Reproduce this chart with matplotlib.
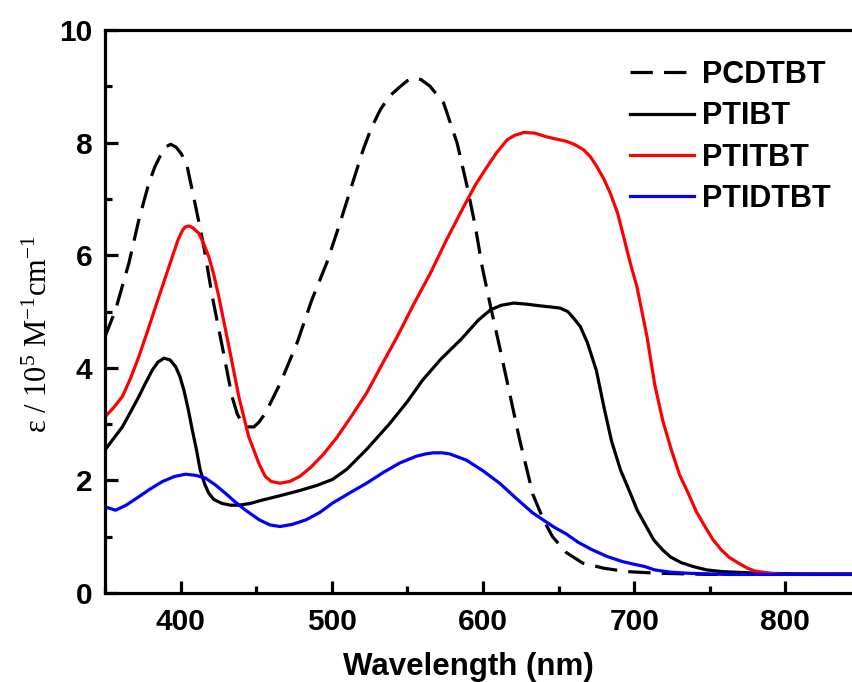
import matplotlib
matplotlib.use("Agg")
import matplotlib.pyplot as plt
from matplotlib.ticker import MultipleLocator

plt.rcParams["mathtext.fontset"] = "custom"
plt.rcParams["mathtext.rm"] = "Liberation Serif"
plt.rcParams["mathtext.it"] = "Liberation Serif:italic"

# absorption spectra, wavelength (nm) vs epsilon (1e5 M^-1 cm^-1)
pcdtbt_wl = [350, 357, 365.8, 372.4, 379, 383, 386.8, 390, 393.4, 397, 400.5, 404.4, 410, 415.4,
             421, 427.6, 434, 437.5, 440.8, 444.5, 448.5, 452, 456, 466, 477, 486.7, 496.6,
             505.4, 513, 520.7, 526, 532, 538, 545, 550, 554, 559, 565, 574, 582.9, 589.5, 595,
             599.4, 605, 611, 618, 624, 633, 640, 646, 655, 666, 680, 695, 717, 750, 800, 850]
pcdtbt_eps = [4.55, 5.03, 5.86, 6.63, 7.28, 7.57, 7.78, 7.92, 7.97, 7.92, 7.8, 7.57, 6.86, 6.15,
              5.26, 4.37, 3.49, 3.18, 3.01, 2.95, 2.95, 3.04, 3.19, 3.73, 4.44, 5.2, 5.86, 6.57,
              7.22, 7.87, 8.25, 8.58, 8.82, 8.99, 9.1, 9.15, 9.12, 9.0, 8.7, 7.99, 7.22, 6.5,
              5.8, 5.09, 4.37, 3.5, 2.75, 1.75, 1.3, 1.0, 0.72, 0.53, 0.44, 0.38, 0.35, 0.33,
              0.33, 0.33]

ptibt_wl = [350, 355, 361.5, 367, 372.4, 377, 381.3, 385, 389, 393, 396.7, 399.5, 402.2, 405,
            407.7, 410.5, 413, 416, 418.7, 422, 427.5, 433, 438.5, 446, 454, 466, 478.8, 490,
            500.7, 510, 523, 538, 550, 560, 572, 586, 597, 605, 612, 620.3, 629, 638, 645, 651,
            656, 660, 664.4, 669, 675, 680, 685, 691, 697, 702, 708, 713, 719, 724, 731, 739,
            748, 758, 783, 810, 850]
ptibt_eps = [2.54, 2.72, 2.95, 3.22, 3.49, 3.74, 3.96, 4.1, 4.17, 4.14, 4.02, 3.85, 3.6, 3.27,
             2.9, 2.54, 2.18, 1.93, 1.77, 1.66, 1.59, 1.56, 1.56, 1.59, 1.65, 1.73, 1.82, 1.91,
             2.02, 2.2, 2.55, 3.0, 3.4, 3.78, 4.15, 4.52, 4.85, 5.03, 5.11, 5.15, 5.13, 5.1,
             5.08, 5.06, 5.0, 4.88, 4.73, 4.45, 3.95, 3.3, 2.7, 2.18, 1.8, 1.47, 1.18, 0.94,
             0.76, 0.64, 0.54, 0.47, 0.41, 0.38, 0.35, 0.34, 0.34]

ptitbt_wl = [350, 355, 361.5, 367, 372.4, 378, 383.5, 389, 394.5, 398, 401, 403, 405.5, 408,
             412, 415, 418.7, 422, 425.3, 432, 438.5, 445, 451.8, 456, 460, 465.7, 472, 478.8,
             486, 494, 503, 512, 523, 533, 543.2, 554, 565.2, 576, 587.2, 595, 602.7, 609, 616,
             621, 627, 634, 642.4, 649, 655.6, 661, 666.6, 671, 675.4, 680, 684.2, 689, 693,
             697, 701.8, 708.5, 713.6, 719, 724.6, 730, 735.6, 741, 746.8, 752, 757.8, 763,
             769, 775, 780, 790, 800, 850]
ptitbt_eps = [3.13, 3.27, 3.49, 3.82, 4.2, 4.64, 5.09, 5.53, 5.97, 6.25, 6.43, 6.5, 6.52, 6.49,
              6.39, 6.22, 5.97, 5.65, 5.26, 4.37, 3.49, 2.78, 2.3, 2.07, 1.98, 1.95, 1.98, 2.07,
              2.23, 2.45, 2.75, 3.1, 3.55, 4.05, 4.55, 5.12, 5.68, 6.28, 6.86, 7.25, 7.57, 7.82,
              8.05, 8.13, 8.18, 8.17, 8.1, 8.06, 8.02, 7.96, 7.87, 7.75, 7.57, 7.35, 7.1, 6.75,
              6.33, 5.9, 5.44, 4.55, 3.7, 3.05, 2.54, 2.1, 1.78, 1.45, 1.18, 0.95, 0.76, 0.63,
              0.53, 0.44, 0.39, 0.35, 0.33, 0.33]

ptidtbt_wl = [350, 357, 364, 372.4, 380, 388, 396, 403.3, 410, 416.5, 423, 429.7, 436, 443,
              452, 459, 465.7, 474, 483, 492, 500.7, 512, 523, 534, 545, 556, 562, 567, 573,
              578, 589, 600, 611, 622, 633, 647, 655, 663, 672, 682, 692, 700, 707, 713.6, 724,
              736, 760, 800, 850]
ptidtbt_eps = [1.53, 1.47, 1.56, 1.71, 1.85, 1.98, 2.07, 2.11, 2.09, 2.04, 1.92, 1.77, 1.62,
               1.47, 1.3, 1.21, 1.18, 1.22, 1.3, 1.43, 1.6, 1.78, 1.95, 2.14, 2.31, 2.43, 2.47,
               2.49, 2.49, 2.47, 2.36, 2.17, 1.95, 1.68, 1.42, 1.17, 1.05, 0.9, 0.77, 0.65, 0.56,
               0.51, 0.47, 0.41, 0.37, 0.35, 0.33, 0.33, 0.33]

fig = plt.figure(figsize=(8.52, 6.82), dpi=100)
ax = fig.add_axes([105 / 852, 1 - 593 / 682, 756 / 852, 563 / 682])

lw = 2.3
style = dict(lw=lw, solid_joinstyle="round", dash_joinstyle="round")
ax.plot(pcdtbt_wl, pcdtbt_eps, color="black", dashes=(7, 3.5), label="PCDTBT", **style)
ax.plot(ptibt_wl, ptibt_eps, color="black", label="PTIBT", **style)
ax.plot(ptitbt_wl, ptitbt_eps, color="#ff0000", label="PTITBT", **style)
ax.plot(ptidtbt_wl, ptidtbt_eps, color="#0000ff", label="PTIDTBT", **style)

ax.set_xlim(350, 850)
ax.set_ylim(0, 10)
ax.xaxis.set_major_locator(MultipleLocator(100))
ax.xaxis.set_minor_locator(MultipleLocator(50))
ax.yaxis.set_major_locator(MultipleLocator(2))
ax.yaxis.set_minor_locator(MultipleLocator(1))

for side in ["left", "bottom", "top", "right"]:
    ax.spines[side].set_linewidth(2.3)

ax.tick_params(which="both", direction="in", top=False, right=False, width=2.3)
ax.tick_params(which="major", length=9)
ax.tick_params(which="minor", length=5)
ax.tick_params(axis="y", pad=9)
ax.tick_params(axis="x", pad=11)

for lab in ax.get_xticklabels() + ax.get_yticklabels():
    lab.set_family("Liberation Sans")
    lab.set_fontweight("bold")
    lab.set_fontsize(21.5)

ax.set_xlabel("Wavelength (nm)", family="Liberation Sans", fontweight="bold", fontsize=22.5)
ax.xaxis.set_label_coords(0.48, -0.105)
ax.set_ylabel(r"ε / 10$^{5}$ M$^{-1}$cm$^{-1}$", family="Liberation Serif", fontsize=22)
ax.yaxis.set_label_coords(-0.067, 0.46)

ax.legend(loc="upper left", bbox_to_anchor=(630 / 852, 1 - 60 / 682),
          bbox_transform=fig.transFigure, frameon=False, borderpad=0,
          borderaxespad=0, handlelength=2.1, handletextpad=0.25, labelspacing=0.37,
          prop={"family": "Liberation Sans", "weight": "bold", "size": 22})

fig.savefig("out.png", dpi=100)
